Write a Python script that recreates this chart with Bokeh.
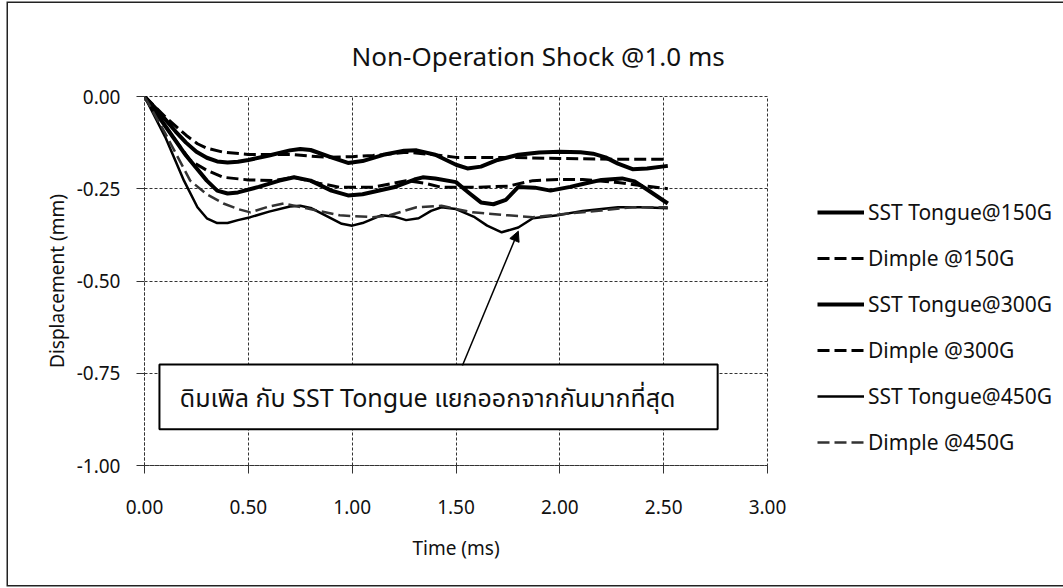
from bokeh.plotting import figure
from bokeh.models import (Legend, LegendItem, FixedTicker, NumeralTickFormatter, Label,
                          BoxAnnotation, Arrow, NormalHead, Range1d)
from bokeh.embed import file_html
from bokeh.resources import INLINE

# ---- data ----
t_sst150 = [0, 0.05, 0.1, 0.15, 0.2, 0.25, 0.3, 0.35, 0.4, 0.45, 0.5, 0.6, 0.7, 0.75, 0.8, 0.9, 0.98, 1.05, 1.15, 1.25, 1.31, 1.4, 1.5, 1.555, 1.62, 1.7, 1.8, 1.9, 2.0, 2.1, 2.16, 2.22, 2.28, 2.35, 2.42, 2.52]
v_sst150 = [0, -0.03, -0.062, -0.095, -0.125, -0.15, -0.166, -0.176, -0.179, -0.177, -0.172, -0.16, -0.146, -0.142, -0.145, -0.165, -0.18, -0.175, -0.158, -0.147, -0.146, -0.158, -0.185, -0.195, -0.19, -0.172, -0.158, -0.152, -0.15, -0.151, -0.155, -0.165, -0.182, -0.197, -0.195, -0.188]

t_dim150 = [0, 0.1, 0.2, 0.255, 0.3, 0.38, 0.5, 0.7, 0.88, 1.0, 1.1, 1.26, 1.4, 1.5, 1.75, 2.0, 2.26, 2.52]
v_dim150 = [0, -0.055, -0.105, -0.128, -0.14, -0.151, -0.157, -0.157, -0.165, -0.163, -0.16, -0.151, -0.158, -0.165, -0.165, -0.168, -0.17, -0.17]

t_sst300 = [0, 0.1, 0.2, 0.3, 0.35, 0.4, 0.45, 0.55, 0.65, 0.72, 0.8, 0.9, 0.98, 1.05, 1.2, 1.3, 1.34, 1.4, 1.5, 1.56, 1.62, 1.68, 1.74, 1.8, 1.88, 1.955, 2.05, 2.11, 2.2, 2.3, 2.36, 2.42, 2.52]
v_sst300 = [0, -0.08, -0.16, -0.228, -0.255, -0.263, -0.26, -0.245, -0.228, -0.219, -0.228, -0.255, -0.268, -0.265, -0.246, -0.225, -0.219, -0.222, -0.232, -0.26, -0.287, -0.292, -0.28, -0.245, -0.247, -0.255, -0.245, -0.237, -0.226, -0.222, -0.23, -0.252, -0.29]

t_dim300 = [0, 0.1, 0.22, 0.3, 0.38, 0.5, 0.62, 0.72, 0.84, 0.94, 1.1, 1.26, 1.35, 1.43, 1.6, 1.75, 1.87, 2.0, 2.11, 2.28, 2.4, 2.52]
v_dim300 = [0, -0.08, -0.173, -0.2, -0.219, -0.226, -0.228, -0.219, -0.235, -0.246, -0.246, -0.228, -0.235, -0.246, -0.246, -0.243, -0.228, -0.225, -0.225, -0.233, -0.242, -0.25]

t_sst450 = [0, 0.1, 0.19, 0.255, 0.3, 0.35, 0.4, 0.45, 0.51, 0.6, 0.7, 0.75, 0.8, 0.88, 0.95, 1.0, 1.05, 1.14, 1.2, 1.26, 1.32, 1.38, 1.43, 1.5, 1.59, 1.65, 1.72, 1.8, 1.87, 1.99, 2.11, 2.28, 2.4, 2.52]
v_sst450 = [0, -0.11, -0.228, -0.30, -0.33, -0.343, -0.343, -0.335, -0.327, -0.312, -0.298, -0.296, -0.302, -0.325, -0.345, -0.35, -0.343, -0.322, -0.325, -0.335, -0.33, -0.31, -0.30, -0.305, -0.327, -0.35, -0.368, -0.355, -0.33, -0.322, -0.31, -0.30, -0.3, -0.303]

t_dim450 = [0, 0.1, 0.22, 0.3, 0.38, 0.45, 0.51, 0.6, 0.67, 0.78, 0.94, 1.1, 1.18, 1.25, 1.31, 1.43, 1.5, 1.58, 1.75, 1.87, 2.04, 2.2, 2.35, 2.52]
v_dim450 = [0, -0.1, -0.228, -0.265, -0.29, -0.305, -0.314, -0.298, -0.29, -0.303, -0.322, -0.327, -0.322, -0.31, -0.30, -0.296, -0.305, -0.314, -0.322, -0.327, -0.317, -0.309, -0.3, -0.3]

series_names = ["SST Tongue@150G", "Dimple @150G", "SST Tongue@300G",
                "Dimple @300G", "SST Tongue@450G", "Dimple @450G"]
x_ticks = [0, 0.5, 1.0, 1.5, 2.0, 2.5, 3.0]
y_ticks = [0, -0.25, -0.5, -0.75, -1.0]

title_text = "Non-Operation Shock @1.0 ms"
x_title = "Time (ms)"
y_title = "Displacement (mm)"
note_text = "ดิมเพิล กับ SST Tongue แยกออกจากกันมากที่สุด"
# annotation geometry (data units)
note_box = dict(left=0.072, right=2.76, top=-0.726, bottom=-0.902)
note_pos = (0.17, -0.815)
arrow_from = (1.531, -0.729)
arrow_to = (1.80, -0.365)

FONT = "Noto Sans, Noto Sans Thai, Tahoma, sans-serif"

p = figure(frame_width=623, frame_height=369, width=1050, height=582,
           x_range=Range1d(0, 3), y_range=Range1d(-1, 0),
           output_backend="svg", toolbar_location=None,
           min_border_left=136, min_border_right=291, min_border_top=93, min_border_bottom=120)
p.styles = {"margin-left": "8px", "margin-top": "3px", "box-shadow": "0 0 0 1.5px #222"}

p.background_fill_color = "white"
p.border_fill_color = "white"
p.outline_line_color = "#333"
p.outline_line_dash = "3 2"
p.outline_line_width = 1

p.title.text = title_text
p.title.align = "left"
p.title.offset = 207
p.title.standoff = 46
p.title.text_font = FONT
p.title.text_font_size = "26px"
p.title.text_font_style = "normal"
p.title.text_color = "#111"

for ax in (p.xaxis[0], p.yaxis[0]):
    ax.axis_line_color = "#333"
    ax.axis_line_dash = "3 2"
    ax.major_tick_line_color = "#333"
    ax.major_tick_in = 0
    ax.major_tick_out = 8
    ax.minor_tick_line_color = None
    ax.major_label_text_font = FONT
    ax.major_label_text_font_size = "19px"
    ax.major_label_text_color = "#111"
    ax.axis_label_text_font = FONT
    ax.axis_label_text_font_size = "19px"
    ax.axis_label_text_font_style = "normal"
    ax.axis_label_text_color = "#111"

p.xaxis.ticker = FixedTicker(ticks=x_ticks)
p.yaxis.ticker = FixedTicker(ticks=y_ticks)
p.xaxis.formatter = NumeralTickFormatter(format="0.00")
p.yaxis.formatter = NumeralTickFormatter(format="0.00")
p.xaxis.major_label_standoff = 26
p.yaxis.major_label_standoff = 16
p.xaxis.axis_label = x_title
p.yaxis.axis_label = y_title
p.xaxis.axis_label_standoff = 18
p.yaxis.axis_label_standoff = 4

p.xgrid.ticker = FixedTicker(ticks=x_ticks)
p.ygrid.ticker = FixedTicker(ticks=y_ticks)
for g in (p.xgrid[0], p.ygrid[0]):
    g.grid_line_color = "#333"
    g.grid_line_dash = "3 2"
    g.grid_line_width = 1

styles = [
    dict(line_width=4, line_dash="solid", line_color="black"),
    dict(line_width=3, line_dash="12 5", line_color="black"),
    dict(line_width=4, line_dash="solid", line_color="black"),
    dict(line_width=3, line_dash="12 5", line_color="black"),
    dict(line_width=2.5, line_dash="solid", line_color="black"),
    dict(line_width=2.5, line_dash="12 5", line_color="#333"),
]
data = [(t_sst150, v_sst150), (t_dim150, v_dim150), (t_sst300, v_sst300),
        (t_dim300, v_dim300), (t_sst450, v_sst450), (t_dim450, v_dim450)]

items = []
for name, (tt, vv), st in zip(series_names, data, styles):
    r = p.line(tt, vv, line_join="round", **st)
    items.append(LegendItem(label=name, renderers=[r]))

legend = Legend(items=items, location=(50, 9), orientation="vertical",
                glyph_width=47, glyph_height=26, label_height=26, spacing=18,
                padding=0, margin=0, label_standoff=4,
                label_text_font=FONT, label_text_font_size="21px", label_text_color="#111",
                border_line_color=None, background_fill_alpha=0)
p.add_layout(legend, "right")

# callout box, text and arrow
p.add_layout(BoxAnnotation(fill_color="white", fill_alpha=1, line_color="black",
                           line_alpha=1, line_width=2, **note_box))
p.add_layout(Label(x=note_pos[0], y=note_pos[1], text=note_text, text_font=FONT,
                   text_font_size="25px", text_color="#111", text_baseline="middle"))
p.add_layout(Arrow(x_start=arrow_from[0], y_start=arrow_from[1], x_end=arrow_to[0], y_end=arrow_to[1],
                   line_color="black", line_width=1.5,
                   end=NormalHead(size=10, fill_color="black", line_color="black")))

open("out.html", "w").write(file_html(p, INLINE))
